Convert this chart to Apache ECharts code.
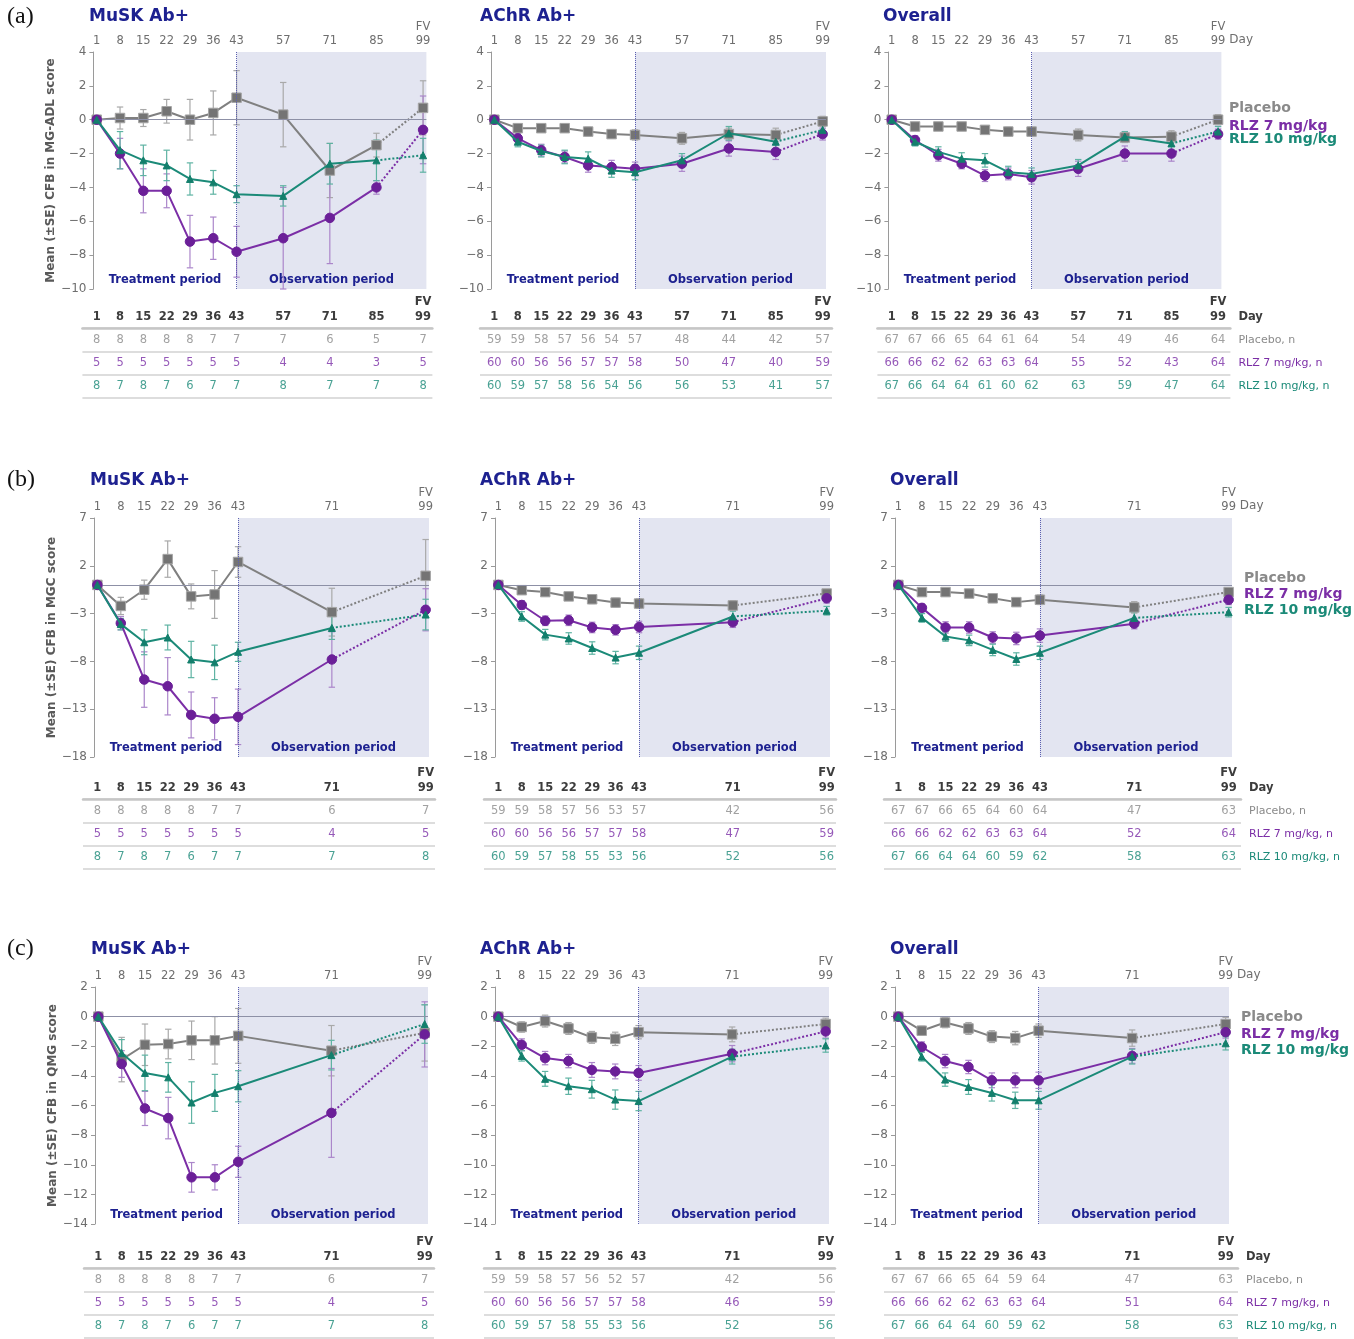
<!DOCTYPE html>
<html><head><meta charset="utf-8">
<script src="https://cdn.jsdelivr.net/npm/echarts@6/dist/echarts.min.js"></script>
<style>html,body{margin:0;padding:0;background:#fff}#c{width:1354px;height:1339px}</style>
</head><body><div id="c"></div><script>
// ---------------- DATA ----------------
const DAYS_ADL = [1, 8, 15, 22, 29, 36, 43, 57, 71, 85, 99];
const DAYS_MGC = [1, 8, 15, 22, 29, 36, 43, 71, 99];
const DAYS_QMG = [1, 8, 15, 22, 29, 36, 43, 71, 99];
const Y_TICKS_ADL = [-10, -8, -6, -4, -2, 0, 2, 4];
const Y_TICKS_MGC = [-18, -13, -8, -3, 2, 7];
const Y_TICKS_QMG = [-14, -12, -10, -8, -6, -4, -2, 0, 2];
const PANEL_TITLES = ['MuSK Ab+', 'AChR Ab+', 'Overall'];
const ROW_TAGS = ['(a)', '(b)', '(c)'];
const Y_NAMES = ['Mean (\u00b1SE) CFB in MG-ADL score', 'Mean (\u00b1SE) CFB in MGC score', 'Mean (\u00b1SE) CFB in QMG score'];
const GROUPS = ['Placebo', 'RLZ 7 mg/kg', 'RLZ 10 mg/kg'];
const TABLE_ROWS = ['Placebo, n', 'RLZ 7 mg/kg, n', 'RLZ 10 mg/kg, n'];
const PERIODS = ['Treatment period', 'Observation period'];

// (a) MG-ADL
const adlMuskPbo = [0, 0.1, 0.1, 0.5, 0, 0.4, 1.3, 0.3, -3.0, -1.5, 0.7];
const adlMuskPboSe = [0, 0.65, 0.5, 0.7, 1.2, 1.3, 1.6, 1.9, 1.6, 0.7, 1.6];
const adlMuskR7 = [0, -2.0, -4.2, -4.2, -7.2, -7.0, -7.8, -7.0, -5.8, -4.0, -0.6];
const adlMuskR7Se = [0, 0.9, 1.3, 1.0, 1.55, 1.25, 1.5, 3.0, 2.7, 0.4, 2.0];
const adlMuskR10 = [0, -1.8, -2.4, -2.7, -3.5, -3.7, -4.4, -4.5, -2.6, -2.4, -2.1];
const adlMuskR10Se = [0, 1.1, 0.9, 0.9, 0.95, 0.7, 0.5, 0.6, 1.2, 1.2, 1.0];
const adlAchrPbo = [0, -0.5, -0.5, -0.5, -0.7, -0.85, -0.9, -1.1, -0.85, -0.9, -0.1];
const adlAchrPboSe = [0, 0.2, 0.2, 0.2, 0.25, 0.25, 0.3, 0.35, 0.35, 0.4, 0.3];
const adlAchrR7 = [0, -1.1, -1.8, -2.2, -2.7, -2.8, -2.9, -2.6, -1.7, -1.9, -0.85];
const adlAchrR7Se = [0, 0.3, 0.35, 0.35, 0.4, 0.4, 0.4, 0.45, 0.45, 0.45, 0.35];
const adlAchrR10 = [0, -1.3, -1.85, -2.2, -2.3, -3.0, -3.1, -2.4, -0.8, -1.3, -0.6];
const adlAchrR10Se = [0, 0.3, 0.35, 0.4, 0.4, 0.4, 0.45, 0.4, 0.4, 0.4, 0.3];
const adlAllPbo = [0, -0.4, -0.4, -0.4, -0.6, -0.7, -0.7, -0.9, -1.05, -1.0, 0];
const adlAllPboSe = [0, 0.15, 0.15, 0.15, 0.2, 0.25, 0.25, 0.35, 0.3, 0.35, 0.3];
const adlAllR7 = [0, -1.2, -2.1, -2.6, -3.3, -3.2, -3.4, -2.9, -2.0, -2.0, -0.85];
const adlAllR7Se = [0, 0.25, 0.35, 0.3, 0.35, 0.35, 0.4, 0.45, 0.45, 0.45, 0.3];
const adlAllR10 = [0, -1.3, -1.9, -2.3, -2.4, -3.1, -3.2, -2.7, -1.0, -1.4, -0.7];
const adlAllR10Se = [0, 0.25, 0.3, 0.35, 0.4, 0.35, 0.35, 0.35, 0.3, 0.4, 0.3];
const nAdlMuskPbo = [8, 8, 8, 8, 8, 7, 7, 7, 6, 5, 7];
const nAdlMuskR7 = [5, 5, 5, 5, 5, 5, 5, 4, 4, 3, 5];
const nAdlMuskR10 = [8, 7, 8, 7, 6, 7, 7, 8, 7, 7, 8];
const nAdlAchrPbo = [59, 59, 58, 57, 56, 54, 57, 48, 44, 42, 57];
const nAdlAchrR7 = [60, 60, 56, 56, 57, 57, 58, 50, 47, 40, 59];
const nAdlAchrR10 = [60, 59, 57, 58, 56, 54, 56, 56, 53, 41, 57];
const nAdlAllPbo = [67, 67, 66, 65, 64, 61, 64, 54, 49, 46, 64];
const nAdlAllR7 = [66, 66, 62, 62, 63, 63, 64, 55, 52, 43, 64];
const nAdlAllR10 = [67, 66, 64, 64, 61, 60, 62, 63, 59, 47, 64];

// (b) MGC
const mgcMuskPbo = [0, -2.2, -0.5, 2.7, -1.2, -1.0, 2.4, -2.85, 0.95];
const mgcMuskPboSe = [0, 0.9, 1.0, 1.9, 1.3, 2.5, 1.6, 2.5, 3.8];
const mgcMuskR7 = [0, -4.0, -9.9, -10.6, -13.6, -14.0, -13.8, -7.8, -2.6];
const mgcMuskR7Se = [0, 0.7, 2.9, 3.0, 2.4, 2.2, 2.9, 2.9, 2.2];
const mgcMuskR10 = [0, -4.1, -6.0, -5.5, -7.8, -8.1, -7.0, -4.5, -3.1];
const mgcMuskR10Se = [0, 0.6, 1.3, 1.3, 1.9, 1.8, 1.0, 1.2, 1.6];
const mgcAchrPbo = [0, -0.55, -0.75, -1.2, -1.5, -1.85, -1.95, -2.15, -0.9];
const mgcAchrPboSe = [0, 0.3, 0.35, 0.4, 0.45, 0.45, 0.5, 0.5, 0.4];
const mgcAchrR7 = [0, -2.1, -3.75, -3.7, -4.45, -4.7, -4.4, -3.9, -1.4];
const mgcAchrR7Se = [0, 0.45, 0.5, 0.55, 0.55, 0.55, 0.6, 0.55, 0.5];
const mgcAchrR10 = [0, -3.3, -5.2, -5.6, -6.6, -7.6, -7.1, -3.3, -2.7];
const mgcAchrR10Se = [0, 0.5, 0.55, 0.6, 0.65, 0.65, 0.7, 0.55, 0.45];
const mgcAllPbo = [0, -0.75, -0.75, -0.9, -1.4, -1.8, -1.55, -2.35, -0.75];
const mgcAllPboSe = [0, 0.3, 0.35, 0.4, 0.4, 0.45, 0.5, 0.6, 0.4];
const mgcAllR7 = [0, -2.4, -4.45, -4.45, -5.5, -5.6, -5.3, -4.05, -1.55];
const mgcAllR7Se = [0, 0.4, 0.6, 0.6, 0.6, 0.65, 0.7, 0.55, 0.5];
const mgcAllR10 = [0, -3.45, -5.4, -5.8, -6.8, -7.75, -7.1, -3.45, -2.85];
const mgcAllR10Se = [0, 0.45, 0.5, 0.55, 0.6, 0.65, 0.7, 0.6, 0.5];
const nMgcMuskPbo = [8, 8, 8, 8, 8, 7, 7, 6, 7];
const nMgcMuskR7 = [5, 5, 5, 5, 5, 5, 5, 4, 5];
const nMgcMuskR10 = [8, 7, 8, 7, 6, 7, 7, 7, 8];
const nMgcAchrPbo = [59, 59, 58, 57, 56, 53, 57, 42, 56];
const nMgcAchrR7 = [60, 60, 56, 56, 57, 57, 58, 47, 59];
const nMgcAchrR10 = [60, 59, 57, 58, 55, 53, 56, 52, 56];
const nMgcAllPbo = [67, 67, 66, 65, 64, 60, 64, 47, 63];
const nMgcAllR7 = [66, 66, 62, 62, 63, 63, 64, 52, 64];
const nMgcAllR10 = [67, 66, 64, 64, 60, 59, 62, 58, 63];

// (c) QMG
const qmgMuskPbo = [0, -2.9, -1.9, -1.85, -1.6, -1.6, -1.3, -2.3, -1.1];
const qmgMuskPboSe = [0, 1.5, 1.4, 1.0, 1.3, 1.6, 1.85, 1.7, 1.9];
const qmgMuskR7 = [0, -3.2, -6.2, -6.85, -10.85, -10.85, -9.8, -6.5, -1.2];
const qmgMuskR7Se = [0, 0.9, 1.15, 1.4, 1.0, 0.85, 1.05, 3.0, 2.2];
const qmgMuskR10 = [0, -2.45, -3.8, -4.1, -5.8, -5.15, -4.7, -2.6, -0.5];
const qmgMuskR10Se = [0, 0.9, 1.2, 1.0, 1.4, 1.25, 1.05, 1.0, 1.3];
const qmgAchrPbo = [0, -0.7, -0.3, -0.8, -1.4, -1.5, -1.05, -1.2, -0.5];
const qmgAchrPboSe = [0, 0.35, 0.4, 0.4, 0.4, 0.45, 0.45, 0.5, 0.4];
const qmgAchrR7 = [0, -1.9, -2.8, -3.0, -3.6, -3.7, -3.8, -2.5, -1.0];
const qmgAchrR7Se = [0, 0.4, 0.45, 0.45, 0.5, 0.5, 0.5, 0.55, 0.45];
const qmgAchrR10 = [0, -2.65, -4.2, -4.7, -4.9, -5.6, -5.7, -2.7, -1.95];
const qmgAchrR10Se = [0, 0.35, 0.5, 0.55, 0.6, 0.65, 0.65, 0.5, 0.45];
const qmgAllPbo = [0, -0.95, -0.4, -0.8, -1.35, -1.45, -0.95, -1.45, -0.5];
const qmgAllPboSe = [0, 0.3, 0.35, 0.4, 0.4, 0.45, 0.45, 0.55, 0.45];
const qmgAllR7 = [0, -2.05, -3.0, -3.4, -4.3, -4.3, -4.3, -2.65, -1.05];
const qmgAllR7Se = [0, 0.35, 0.45, 0.45, 0.5, 0.5, 0.55, 0.5, 0.4];
const qmgAllR10 = [0, -2.7, -4.25, -4.75, -5.15, -5.65, -5.65, -2.7, -1.8];
const qmgAllR10Se = [0, 0.3, 0.45, 0.5, 0.55, 0.55, 0.6, 0.5, 0.45];
const nQmgMuskPbo = [8, 8, 8, 8, 8, 7, 7, 6, 7];
const nQmgMuskR7 = [5, 5, 5, 5, 5, 5, 5, 4, 5];
const nQmgMuskR10 = [8, 7, 8, 7, 6, 7, 7, 7, 8];
const nQmgAchrPbo = [59, 59, 58, 57, 56, 52, 57, 42, 56];
const nQmgAchrR7 = [60, 60, 56, 56, 57, 57, 58, 46, 59];
const nQmgAchrR10 = [60, 59, 57, 58, 55, 53, 56, 52, 56];
const nQmgAllPbo = [67, 67, 66, 65, 64, 59, 64, 47, 63];
const nQmgAllR7 = [66, 66, 62, 62, 63, 63, 64, 51, 64];
const nQmgAllR10 = [67, 66, 64, 64, 60, 59, 62, 58, 63];

// ---------------- ASSEMBLY ----------------
const ROWS = [
  { days: DAYS_ADL, ticks: Y_TICKS_ADL, panels: [
    { mean: [adlMuskPbo, adlMuskR7, adlMuskR10], se: [adlMuskPboSe, adlMuskR7Se, adlMuskR10Se], n: [nAdlMuskPbo, nAdlMuskR7, nAdlMuskR10] },
    { mean: [adlAchrPbo, adlAchrR7, adlAchrR10], se: [adlAchrPboSe, adlAchrR7Se, adlAchrR10Se], n: [nAdlAchrPbo, nAdlAchrR7, nAdlAchrR10] },
    { mean: [adlAllPbo, adlAllR7, adlAllR10], se: [adlAllPboSe, adlAllR7Se, adlAllR10Se], n: [nAdlAllPbo, nAdlAllR7, nAdlAllR10] }] },
  { days: DAYS_MGC, ticks: Y_TICKS_MGC, panels: [
    { mean: [mgcMuskPbo, mgcMuskR7, mgcMuskR10], se: [mgcMuskPboSe, mgcMuskR7Se, mgcMuskR10Se], n: [nMgcMuskPbo, nMgcMuskR7, nMgcMuskR10] },
    { mean: [mgcAchrPbo, mgcAchrR7, mgcAchrR10], se: [mgcAchrPboSe, mgcAchrR7Se, mgcAchrR10Se], n: [nMgcAchrPbo, nMgcAchrR7, nMgcAchrR10] },
    { mean: [mgcAllPbo, mgcAllR7, mgcAllR10], se: [mgcAllPboSe, mgcAllR7Se, mgcAllR10Se], n: [nMgcAllPbo, nMgcAllR7, nMgcAllR10] }] },
  { days: DAYS_QMG, ticks: Y_TICKS_QMG, panels: [
    { mean: [qmgMuskPbo, qmgMuskR7, qmgMuskR10], se: [qmgMuskPboSe, qmgMuskR7Se, qmgMuskR10Se], n: [nQmgMuskPbo, nQmgMuskR7, nQmgMuskR10] },
    { mean: [qmgAchrPbo, qmgAchrR7, qmgAchrR10], se: [qmgAchrPboSe, qmgAchrR7Se, qmgAchrR10Se], n: [nQmgAchrPbo, nQmgAchrR7, nQmgAchrR10] },
    { mean: [qmgAllPbo, qmgAllR7, qmgAllR10], se: [qmgAllPboSe, qmgAllR7Se, qmgAllR10Se], n: [nQmgAllPbo, nQmgAllR7, nQmgAllR10] }] }
];

// ---------------- LAYOUT / STYLE ----------------
const ROW_LAYOUT = [
  { top: 52, height: 237, tableTop: 328, tableH: 70, titleTop: 8, tagTop: 5, legendY: [110, 128, 141] },
  { top: 518, height: 239, tableTop: 799, tableH: 70, titleTop: 472, tagTop: 468, legendY: [580, 596, 612] },
  { top: 987, height: 237, tableTop: 1268, tableH: 70, titleTop: 941, tagTop: 937, legendY: [1019, 1036, 1052] }
];
const PANEL_LEFT = [[93.4, 491, 888.4], [94, 495, 895], [95, 495, 895]];
const PANEL_WIDTH = [[333, 335, 333], [335, 335, 337], [333, 334, 334]];
const TITLE_LEFT = [[89, 480, 883], [90, 480, 890], [91, 480, 890]];
const LEGEND_X = [1229, 1244, 1241];
const STY = [
  { line: '#808080', sym: 'rect', size: 9.5, mark: '#747474', border: '#a5a5a5', err: '#a9a9a9', text: '#8a8a8a' },
  { line: '#7b2ea6', sym: 'circle', size: 9.5, mark: '#6b1f98', border: '#6b1f98', err: '#ab86ca', text: '#7b2ea6' },
  { line: '#1b8a78', sym: 'triangle', size: 7, mark: '#137f6c', border: '#137f6c', err: '#5fb3a3', text: '#1b8a78' }
];
const NAVY = '#1d2190';
const FONT = 'DejaVu Sans';
const minus = v => (v < 0 ? '\u2212' + Math.abs(v) : String(v));
const dayFmt = d => (d === 99 ? 'FV\n99' : String(d));

function errRender(params, api) {
  const x = api.value(0);
  const p1 = api.coord([x, api.value(1)]);
  const p2 = api.coord([x, api.value(2)]);
  const w = 3.2;
  const style = { stroke: api.visual('color'), lineWidth: 1.2 };
  return { type: 'group', children: [
    { type: 'line', shape: { x1: p1[0], y1: p1[1], x2: p2[0], y2: p2[1] }, style },
    { type: 'line', shape: { x1: p1[0] - w, y1: p1[1], x2: p1[0] + w, y2: p1[1] }, style },
    { type: 'line', shape: { x1: p2[0] - w, y1: p2[1], x2: p2[0] + w, y2: p2[1] }, style }
  ] };
}

const grid = [], xAxis = [], yAxis = [], series = [], title = [], graphic = [];

ROWS.forEach((row, r) => {
  const L = ROW_LAYOUT[r];
  const days = row.days;
  const ticks = row.ticks;
  const yMin = ticks[0], yMax = ticks[ticks.length - 1];
  graphic.push({ type: 'text', left: 7, top: L.tagTop, style: { text: ROW_TAGS[r], font: '24px "Liberation Serif"', fill: '#111' } });
  row.panels.forEach((p, c) => {
    const left = PANEL_LEFT[r][c], width = PANEL_WIDTH[r][c];
    const ppd = width / 100;
    const isOverall = c === 2;
    const gi = grid.length;
    title.push({ text: PANEL_TITLES[c], left: TITLE_LEFT[r][c], top: L.titleTop,
      textStyle: { fontFamily: FONT, fontWeight: 'bold', fontSize: 17, color: NAVY }, padding: 0 });
    // chart grid
    grid.push({ left: left, top: L.top, width: width, height: L.height });
    xAxis.push({ type: 'value', gridIndex: gi, position: 'top', min: 0, max: 100,
      axisLine: { show: false, onZero: false }, axisTick: { show: false }, splitLine: { show: false },
      axisLabel: { customValues: days, formatter: dayFmt, color: '#6e6e6e', fontFamily: FONT, fontSize: 11.5, margin: 4, lineHeight: 14 },
      name: isOverall ? 'Day' : '', nameLocation: 'end', nameGap: 6,
      nameTextStyle: { color: '#6e6e6e', fontFamily: FONT, fontSize: 12, verticalAlign: 'bottom', padding: [0, 0, 6, 0] } });
    yAxis.push({ type: 'value', gridIndex: gi, min: yMin, max: yMax,
      axisLine: { show: true, onZero: false, lineStyle: { color: '#9a9a9a', width: 1 } },
      axisTick: { show: true, customValues: ticks, length: 4, lineStyle: { color: '#9a9a9a' } },
      axisLabel: { customValues: ticks, formatter: minus, color: '#6e6e6e', fontFamily: FONT, fontSize: 12, margin: 7 },
      splitLine: { show: false },
      name: c === 0 ? Y_NAMES[r] : '', nameLocation: 'middle', nameGap: 34,
      nameTextStyle: { color: '#595959', fontFamily: FONT, fontSize: 12, fontWeight: 'bold' } });
    // background: shading, periods, reference lines
    series.push({ type: 'line', xAxisIndex: gi, yAxisIndex: gi, data: [], z: 0, silent: true,
      markArea: { silent: true,
        label: { show: true, position: 'insideBottom', distance: 3, color: NAVY, fontFamily: FONT, fontWeight: 'bold', fontSize: 11.5 },
        data: [
          [{ name: PERIODS[0], xAxis: 0, itemStyle: { color: 'rgba(0,0,0,0)' } }, { xAxis: 43 }],
          [{ name: PERIODS[1], xAxis: 43, itemStyle: { color: '#e3e5f1' } }, { xAxis: 100 }]
        ] },
      markLine: { silent: true, symbol: 'none', label: { show: false },
        data: [
          { yAxis: 0, lineStyle: { color: '#8d90a6', width: 1, type: 'solid' } },
          { xAxis: 43, lineStyle: { color: '#5b5fb0', width: 1, type: 'dotted' } }
        ] } });
    const last = days.length - 1;
    [0, 1, 2].forEach(g => {
      const s = STY[g];
      const mean = p.mean[g], se = p.se[g];
      const errData = [];
      days.forEach((d, i) => { if (se[i] > 0) errData.push([d, mean[i] - se[i], mean[i] + se[i]]); });
      series.push({ type: 'custom', xAxisIndex: gi, yAxisIndex: gi, renderItem: errRender, data: errData,
        itemStyle: { color: s.err }, encode: { x: 0, y: [1, 2] }, z: 2, silent: true });
    });
    [0, 1, 2].forEach(g => {
      const s = STY[g];
      const mean = p.mean[g];
      const solid = days.slice(0, last).map((d, i) => [d, mean[i]]);
      const dotted = [{ value: [days[last - 1], mean[last - 1]], symbol: 'none' }, [days[last], mean[last]]];
      const common = { xAxisIndex: gi, yAxisIndex: gi, type: 'line', symbol: s.sym, symbolSize: s.size,
        itemStyle: { color: s.mark, borderColor: s.border, borderWidth: 1 }, animation: false, silent: true };
      series.push(Object.assign({}, common, { name: GROUPS[g], data: solid, z: 4 + g,
        lineStyle: { color: s.line, width: 2 } }));
      series.push(Object.assign({}, common, { name: GROUPS[g] + ' FV', data: dotted, z: 4 + g,
        lineStyle: { color: s.line, width: 2, type: 'dotted' } }));
    });
    if (isOverall) {
      GROUPS.forEach((gname, g) => {
        graphic.push({ type: 'text', left: LEGEND_X[r], top: L.legendY[g] - 9,
          style: { text: gname, font: 'bold 14px "DejaVu Sans"', fill: STY[g].text } });
      });
    }
    // table grid
    const ti = grid.length;
    const offL = 11, offR = isOverall ? 9 : 6;
    grid.push({ left: left - offL, top: L.tableTop, width: width + offL + offR, height: L.tableH });
    xAxis.push({ type: 'value', gridIndex: ti, position: 'top', min: -offL / ppd, max: 100 + offR / ppd,
      axisLine: { show: true, onZero: false, lineStyle: { color: '#c6c6c6', width: 2.5 } }, axisTick: { show: false }, splitLine: { show: false },
      axisLabel: { customValues: days, formatter: dayFmt, color: '#3c3c3c', fontFamily: FONT, fontWeight: 'bold', fontSize: 11.5, margin: 3, lineHeight: 15 },
      name: isOverall ? 'Day' : '', nameLocation: 'end', nameGap: 8,
      nameTextStyle: { color: '#3c3c3c', fontFamily: FONT, fontWeight: 'bold', fontSize: 11.5, verticalAlign: 'bottom', padding: [0, 0, 5, 0] } });
    yAxis.push({ type: 'category', gridIndex: ti, data: TABLE_ROWS, inverse: true, position: 'right',
      axisLine: { show: false }, axisTick: { show: false },
      splitLine: { show: true, lineStyle: { color: '#d2d2d2', width: 1.5 } },
      axisLabel: { show: isOverall, margin: 8, fontFamily: FONT, fontSize: 11,
        formatter: (v, idx) => '{g' + idx + '|' + v + '}',
        rich: { g0: { color: STY[0].text }, g1: { color: STY[1].text }, g2: { color: STY[2].text } } } });
    [0, 1, 2].forEach(g => {
      series.push({ type: 'scatter', xAxisIndex: ti, yAxisIndex: ti, symbolSize: 1, silent: true,
        itemStyle: { color: 'rgba(0,0,0,0)' },
        data: days.map((d, i) => [d, g, p.n[g][i]]),
        label: { show: true, position: 'inside', formatter: q => String(q.value[2]),
          color: STY[g].text, fontFamily: FONT, fontSize: 11.5 } });
    });
  });
});

const chart = echarts.init(document.getElementById('c'), null, { renderer: 'canvas' });
chart.setOption({ animation: false, backgroundColor: '#fff', title, grid, xAxis, yAxis, series, graphic });
</script></body></html>
